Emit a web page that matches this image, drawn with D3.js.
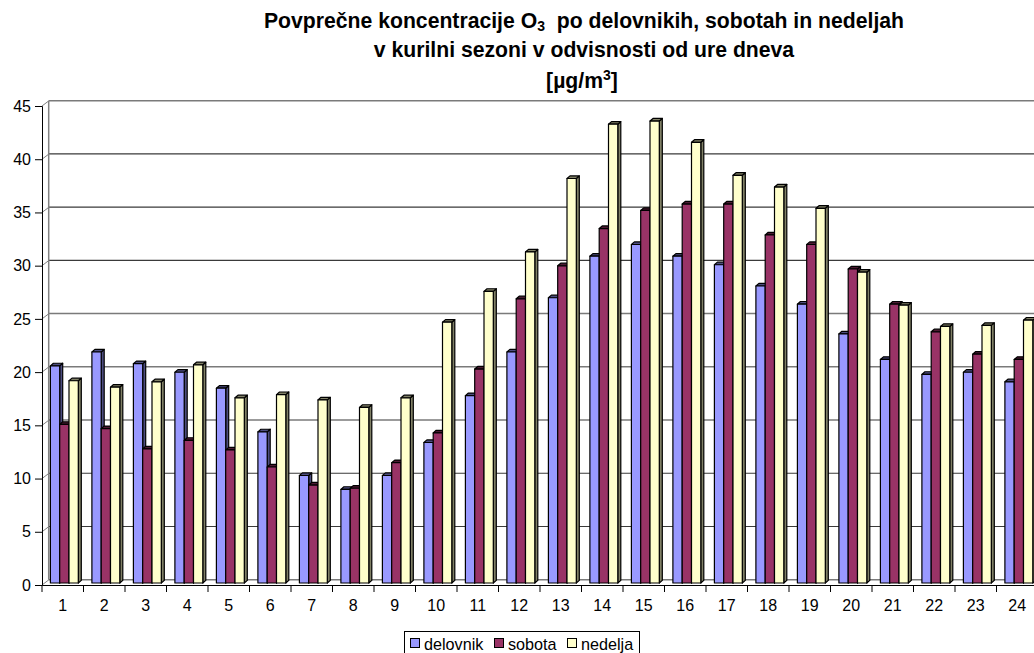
<!DOCTYPE html>
<html><head><meta charset="utf-8">
<script src="https://cdnjs.cloudflare.com/ajax/libs/d3/7.8.5/d3.min.js"></script>
<style>html,body{margin:0;padding:0;background:#fff;overflow:hidden}svg{display:block}text{font-family:"Liberation Sans",Arial,sans-serif;fill:#000}</style>
</head><body><svg id="c" width="1034" height="653"></svg>
<script>
const hours = d3.range(1, 25).map(String);
const seriesNames = ["delovnik", "sobota", "nedelja"];
const delovnik = [20.4,21.7,20.6,19.8,18.3,14.2,10.1,8.8,10.1,13.2,17.6,21.7,26.8,30.7,31.8,30.7,29.9,27.9,26.2,23.4,21,19.6,19.8,18.9];
const sobota = [14.9,14.5,12.6,13.4,12.5,10.9,9.2,8.9,11.3,14.1,20.1,26.7,29.8,33.3,35,35.6,35.6,32.7,31.8,29.5,26.2,23.6,21.5,21];
const nedelja = [19,18.4,18.9,20.5,17.4,17.7,17.2,16.5,17.4,24.5,27.4,31.1,38,43.1,43.4,41.4,38.3,37.2,35.2,29.2,26.1,24.1,24.2,24.7];
const yTicks = [0,5,10,15,20,25,30,35,40,45];
const series = [delovnik, sobota, nedelja];
const fronts = ["#9999ff","#993366","#ffffcc"];
const shades = ["#4d4d80","#4d1a33","#808066"];
const grayGrid = [0,15,20,25,45];

const svg = d3.select("#c");
const x = d3.scaleBand().domain(hours).range([42, 42+24*41.5]).paddingInner(0).paddingOuter(0);
const y = d3.scaleLinear().domain([0,45]).range([585,106]);
const wallDx = 7, wallDy = -5.3;
const barDx = 2, barDy = -2, sideW = 3, topH = 2.6;
const barW = 9.3, groupPad = 6.4;

// walls + grid
const grid = svg.append("g");
yTicks.forEach(t => {
  const yy = y(t);
  const gray = grayGrid.includes(t);
  grid.append("line").attr("x1",42+wallDx).attr("x2",1034).attr("y1",yy+wallDy).attr("y2",yy+wallDy)
    .attr("stroke",gray ? "#7a7a7a" : "#3a3a3a").attr("stroke-width",gray ? 1.5 : 1.2);
  grid.append("line").attr("x1",42).attr("x2",42+wallDx).attr("y1",yy).attr("y2",yy+wallDy).attr("stroke","#808080");
});
grid.append("line").attr("x1",42+wallDx-0.3).attr("x2",42+wallDx-0.3).attr("y1",y(0)+wallDy).attr("y2",y(45)+wallDy).attr("stroke","#808080").attr("stroke-width",1.5);

// bars
const bars = svg.append("g").attr("stroke","#000").attr("stroke-width",1.2).attr("stroke-linejoin","round");
hours.forEach((h,i) => {
  series.forEach((s,k) => {
    const x0 = x(h) + barDx + groupPad + k*barW, x1 = x0 + barW;
    const b = y(0) + barDy, t = y(s[i]) + barDy;
    const g = bars.append("g");
    g.append("polygon").attr("fill",shades[k]).attr("points",[[x1,t],[x1+sideW,t-topH],[x1+sideW,b-topH],[x1,b]].join(" "));
    g.append("polygon").attr("fill",shades[k]).attr("points",[[x0,t],[x0+sideW,t-topH],[x1+sideW,t-topH],[x1,t]].join(" "));
    g.append("rect").attr("x",x0).attr("y",t).attr("width",barW).attr("height",b-t).attr("fill",fronts[k]);
  });
});

// axes
const yAxis = d3.axisLeft(y).tickValues(yTicks).tickSize(7).tickPadding(4);
const ga = svg.append("g").attr("transform","translate(42,0)").call(yAxis);
const xAxis = d3.axisBottom(x).tickSize(0).tickPadding(15);
const gx = svg.append("g").attr("transform","translate(0,585)").call(xAxis);
[ga,gx].forEach(g=>{g.selectAll("text").attr("font-size",16).style("font-family",'"Liberation Sans",Arial,sans-serif');g.selectAll("path,line").attr("stroke","#000");});
gx.selectAll(".tick line").remove();
x.domain().forEach((h,i)=>gx.append("line").attr("x1",x(h)).attr("x2",x(h)).attr("y1",0).attr("y2",7).attr("stroke","#000"));

// title
const title = svg.append("g").attr("text-anchor","middle").attr("font-weight","bold").attr("font-size",21.2);
const l1 = title.append("text").attr("x",584).attr("y",28).style("white-space","pre");
l1.append("tspan").text("Povprečne koncentracije O");
l1.append("tspan").text("3").attr("font-size",14).attr("dy",3);
l1.append("tspan").text("  po delovnikih, sobotah in nedeljah").attr("dy",-3);
title.append("text").attr("x",584).attr("y",57).text("v kurilni sezoni v odvisnosti od ure dneva");
const l3 = title.append("text").attr("x",582).attr("y",88);
l3.append("tspan").text("[µg/m");
l3.append("tspan").text("3").attr("font-size",14).attr("dy",-8);
l3.append("tspan").text("]").attr("dy",8);

// legend
const lg = svg.append("g");
lg.append("rect").attr("x",404.5).attr("y",631.5).attr("width",235).attr("height",22).attr("fill","#fff").attr("stroke","#000");
const lx = [410,494,567];
seriesNames.forEach((n,k)=>{
  lg.append("rect").attr("x",lx[k]+0.5).attr("y",638.5).attr("width",9).attr("height",9).attr("fill",fronts[k]).attr("stroke","#000");
  lg.append("text").attr("x",lx[k]+14).attr("y",650).attr("font-size",16.2).text(n);
});
</script></body></html>
